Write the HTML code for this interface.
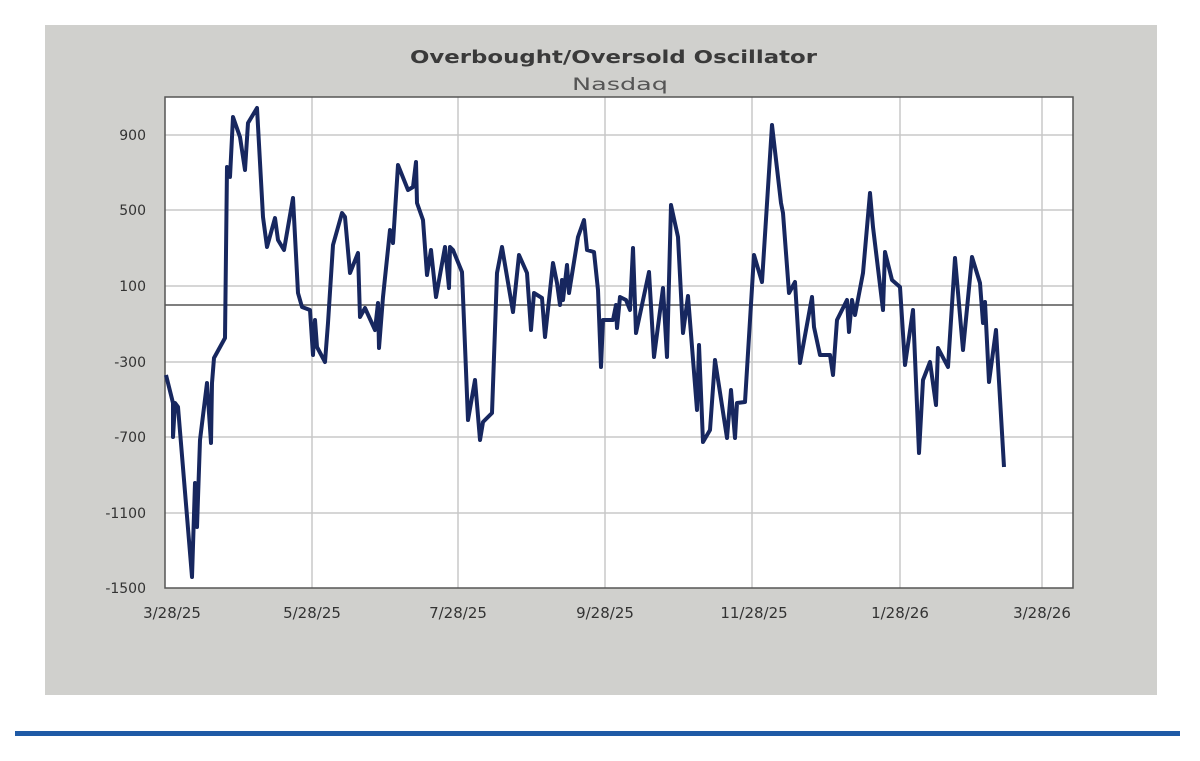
<!DOCTYPE html>
<html><head><meta charset="utf-8"><style>
body{margin:0;background:#fff;width:1200px;height:757px;overflow:hidden;font-family:"DejaVu Sans",sans-serif}
</style></head><body>
<svg width="1200" height="757" viewBox="0 0 1200 757" xmlns="http://www.w3.org/2000/svg">
<rect x="0" y="0" width="1200" height="757" fill="#fff"/>
<rect x="45" y="25" width="1112" height="670" fill="#d0d0cd"/>
<rect x="165" y="97" width="908" height="491" fill="#fff"/>
<g stroke="#c8c8c8" stroke-width="1.5">
<line x1="165" y1="135" x2="1073" y2="135"/>
<line x1="165" y1="210" x2="1073" y2="210"/>
<line x1="165" y1="286" x2="1073" y2="286"/>
<line x1="165" y1="362" x2="1073" y2="362"/>
<line x1="165" y1="437" x2="1073" y2="437"/>
<line x1="165" y1="513" x2="1073" y2="513"/>
<line x1="312" y1="97" x2="312" y2="588"/>
<line x1="458" y1="97" x2="458" y2="588"/>
<line x1="605" y1="97" x2="605" y2="588"/>
<line x1="752" y1="97" x2="752" y2="588"/>
<line x1="900" y1="97" x2="900" y2="588"/>
<line x1="1042" y1="97" x2="1042" y2="588"/>
</g>
<line x1="165" y1="305" x2="1073" y2="305" stroke="#555" stroke-width="1.5"/>
<rect x="165" y="97" width="908" height="491" fill="none" stroke="#555" stroke-width="1.5"/>
<polyline fill="none" stroke="#17275f" stroke-width="4" stroke-linejoin="round" points="
166,375 173,403 173,437 175,403 178,407 192,577 195,483 197,527 200,440 207,383 211,443 212,383 214,358 225,338 227,167 230,177 233,117 240,137 245,170 248,123 257,108 263,217 267,247 275,218 278,240 284,250 293,198 298,293 302,307 310,310 313,355 315,320 317,347 325,362 328,323 333,245 342,213 345,217 350,273 358,253 360,317 365,308 375,330 378,303 379,348 383,297 390,230 393,243 398,165 408,190 413,187 416,162 417,203 423,220 427,275 431,250 436,297 445,247 449,288 450,247 453,250 462,272 468,420 475,380 480,440 483,422 492,413 497,273 502,247 513,312 519,255 527,273 531,330 534,293 542,298 545,337 553,263 557,283 560,305 562,280 563,300 567,265 569,293 578,237 584,220 587,250 594,252 598,290 601,367 603,320 613,320 616,305 617,328 620,297 626,300 630,310 633,248 636,333 649,272 654,357 663,288 667,357 671,205 678,237 683,333 688,296 697,410 699,345 703,442 710,430 715,360 727,438 731,390 735,438 737,403 745,402 754,255 762,282 772,125 781,203 783,213 789,293 795,282 800,363 812,297 814,327 820,355 830,355 833,375 837,320 847,300 849,332 852,300 855,315 863,273 870,193 873,227 883,310 885,252 892,280 900,287 905,365 913,310 919,453 923,380 930,362 936,405 938,348 948,367 955,258 963,350 972,257 980,283 983,323 985,302 989,382 996,330 1004,467"/>
<g font-family="DejaVu Sans, sans-serif" fill="#333">
<text x="410" y="63" font-size="18" font-weight="bold" fill="#3a3a3a" textLength="407" lengthAdjust="spacingAndGlyphs">Overbought/Oversold Oscillator</text>
<text x="572" y="90" font-size="17" fill="#555" textLength="96" lengthAdjust="spacingAndGlyphs">Nasdaq</text>
<g font-size="14" text-anchor="end">
<text x="146" y="140">900</text>
<text x="146" y="215">500</text>
<text x="146" y="291">100</text>
<text x="146" y="367">-300</text>
<text x="146" y="442">-700</text>
<text x="146" y="518">-1100</text>
<text x="146" y="593">-1500</text>
</g>
<g font-size="15" text-anchor="middle">
<text x="172" y="618">3/28/25</text>
<text x="312" y="618">5/28/25</text>
<text x="458" y="618">7/28/25</text>
<text x="605" y="618">9/28/25</text>
<text x="754" y="618">11/28/25</text>
<text x="900" y="618">1/28/26</text>
<text x="1042" y="618">3/28/26</text>
</g>
</g>
<rect x="15" y="731" width="1165" height="5" fill="#1f5aa6"/>
</svg>
</body></html>
